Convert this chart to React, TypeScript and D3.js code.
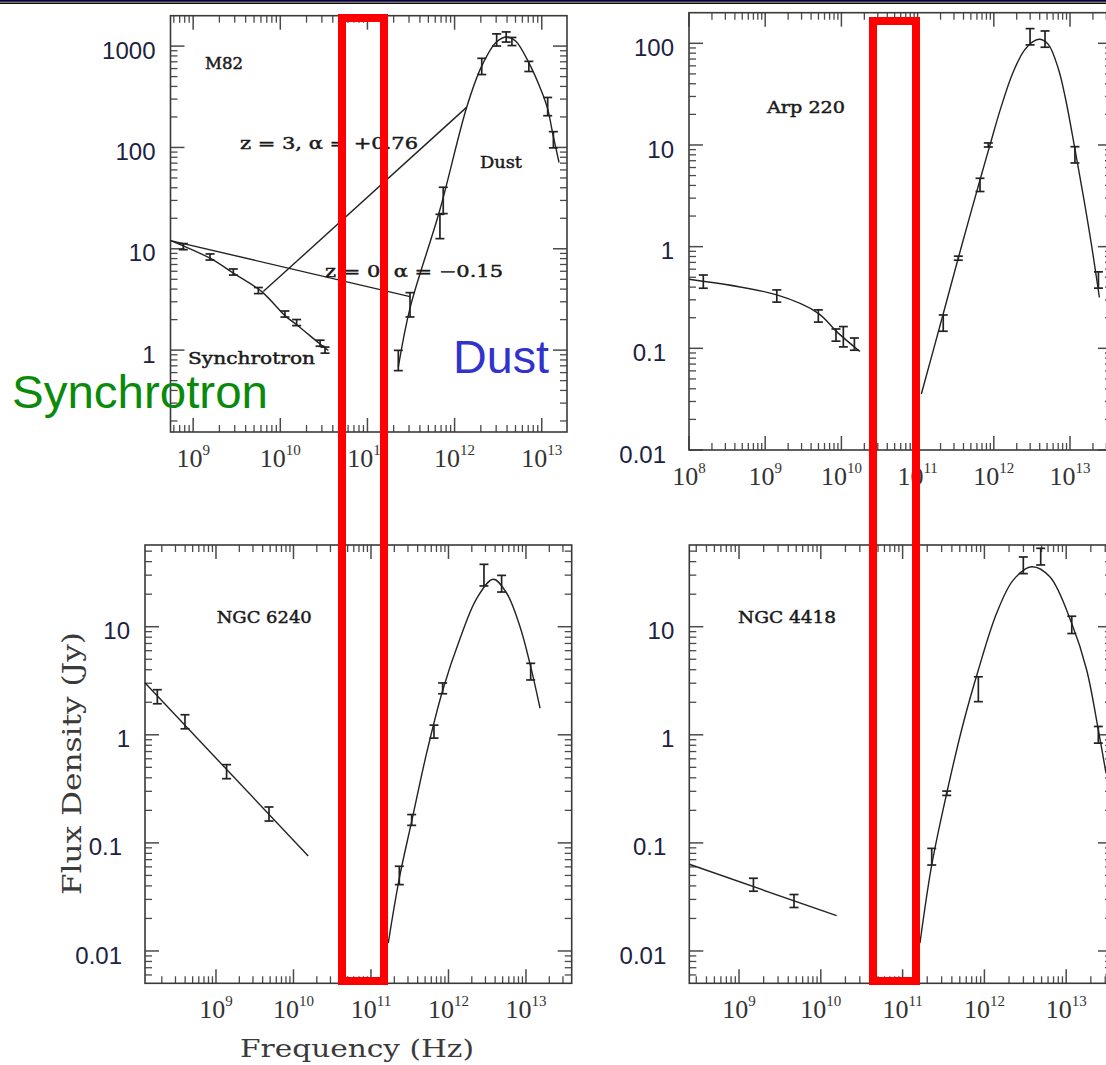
import * as d3 from 'd3';
import React from 'react';

// ---- M82 ----
const m82SynNu = [7.71e8, 1.56e9, 2.89e9, 5.6e9, 1.13e10, 1.54e10, 2.86e10, 3.26e10];
const m82SynFlux = [10.5, 8.3, 5.9, 3.87, 2.27, 1.87, 1.17, 1.0];
const m82SynErr = [0.03, 0.03, 0.03, 0.03, 0.03, 0.03, 0.03, 0.03];
const m82SynFitNu = [5.52e8, 1.56e9, 2.89e9, 6.12e9, 1.13e10, 1.54e10, 2.86e10, 3.56e10];
const m82SynFitFlux = [12.05, 8.07, 5.75, 3.78, 2.19, 1.78, 1.15, 0.99];
const m82DustNu = [2.26e11, 3.08e11, 6.79e11, 7.41e11, 2.05e12, 3.04e12, 3.91e12, 4.55e12, 7.11e12, 1.17e13, 1.36e13];
const m82DustFlux = [0.79, 2.8, 16.6, 30, 630, 1150, 1230, 1110, 630, 253, 119];
const m82DustErr = [0.1, 0.12, 0.12, 0.13, 0.08, 0.06, 0.05, 0.04, 0.05, 0.09, 0.08];
const m82DustFitNu = [2.26e11, 3.09e11, 6.76e11, 1.38e12, 2.04e12, 3.02e12, 3.98e12, 5.01e12, 7.08e12, 1.0e13, 1.17e13, 1.35e13, 1.58e13];
const m82DustFitFlux = [0.68, 2.63, 24, 251, 631, 1096, 1230, 1122, 692, 355, 240, 132, 71];
const m82Z0Nu = [5.52e8, 3.08e11];
const m82Z0Flux = [12.05, 3.37];
const m82Z3Nu = [6.38e9, 1.38e12];
const m82Z3Flux = [3.78, 250];

// ---- Arp 220 ----
const arpSynNu = [1.54e8, 1.42e9, 4.98e9, 8.49e9, 1.06e10, 1.48e10];
const arpSynFlux = [0.453, 0.327, 0.208, 0.135, 0.13, 0.11];
const arpSynErr = [0.065, 0.06, 0.06, 0.06, 0.1, 0.06];
const arpSynFitNu = [1.0e8, 1.42e9, 4.98e9, 8.65e9, 1.75e10];
const arpSynFitFlux = [0.478, 0.335, 0.221, 0.146, 0.093];
const arpDustNu = [2.17e11, 3.42e11, 6.59e11, 8.47e11, 2.99e12, 4.7e12, 1.16e13, 2.36e13];
const arpDustFlux = [0.177, 0.77, 4.05, 10, 116, 110, 8.0, 0.47];
const arpDustErr = [0.08, 0.02, 0.065, 0.02, 0.08, 0.08, 0.08, 0.08];
const arpDustFitNu = [1.12e11, 2.17e11, 3.6e11, 6.61e11, 8.91e11, 1.23e12, 1.78e12, 2.51e12, 3.31e12, 4.04e12, 5.19e12, 7.03e12, 8.71e12, 1.16e13, 1.55e13, 1.93e13, 2.43e13];
const arpDustFitFlux = [0.0355, 0.219, 0.891, 4.57, 10.0, 22.9, 51.3, 85.1, 104.7, 109.6, 97.7, 56.2, 28.8, 9.12, 2.69, 1.0, 0.316];

// ---- NGC 6240 ----
const n6240SynNu = [1.75e8, 3.98e8, 1.37e9, 4.83e9];
const n6240SynFlux = [2.25, 1.32, 0.456, 0.185];
const n6240SynErr = [0.065, 0.065, 0.065, 0.065];
const n6240SynFitNu = [1.21e8, 1.55e10];
const n6240SynFitFlux = [3.03, 0.0757];
const n6240DustNu = [2.32e11, 3.35e11, 6.5e11, 8.41e11, 2.87e12, 4.85e12, 1.15e13];
const n6240DustFlux = [0.05, 0.163, 1.07, 2.69, 30, 25, 3.84];
const n6240DustErr = [0.085, 0.05, 0.06, 0.05, 0.1, 0.077, 0.077];
const n6240DustFitNu = [1.67e11, 2.32e11, 3.35e11, 5.22e11, 8.41e11, 1.41e12, 2.31e12, 3.78e12, 5.64e12, 8.38e12, 1.15e13, 1.52e13];
const n6240DustFitFlux = [0.0118, 0.047, 0.158, 0.676, 2.57, 7.76, 18.2, 27.5, 20.4, 10.0, 4.27, 1.76];

// ---- NGC 4418 ----
const n4418SynNu = [1.5e9, 4.7e9];
const n4418SynFlux = [0.041, 0.029];
const n4418SynErr = [0.06, 0.06];
const n4418SynFitNu = [2.47e8, 1.56e10];
const n4418SynFitFlux = [0.0634, 0.0212];
const n4418DustNu = [2.27e11, 3.46e11, 8.43e11, 2.99e12, 4.88e12, 1.17e13, 2.47e13];
const n4418DustFlux = [0.0745, 0.288, 2.64, 37, 44.5, 10.4, 1.0];
const n4418DustErr = [0.077, 0.02, 0.115, 0.077, 0.077, 0.08, 0.077];
const n4418DustFitNu = [1.63e11, 2.27e11, 3.46e11, 5.52e11, 8.43e11, 1.41e12, 2.25e12, 3.78e12, 6.31e12, 1.17e13, 1.78e13, 2.47e13, 3.07e13];
const n4418DustFitFlux = [0.0118, 0.0625, 0.288, 1.28, 3.98, 13.3, 27.0, 35.9, 29.0, 10.7, 3.98, 1.11, 0.44];

const zip = (a: number[], b: number[]) => a.map((v, i) => [v, b[i]] as [number, number]);

type Txt = { text: string; x: number; y: number; w: number };
type Panel = {
  frame: [number, number, number, number]; // left, right, top, bottom
  xExp: [number, number];
  yExp: [number, number];
  points: { nu: number[]; flux: number[]; err: number[] }[];
  curves: [number, number][][];
  texts: Txt[];
};

const panels: Panel[] = [
  {
    frame: [170.5, 567, 15.7, 432],
    xExp: [8.74, 13.29],
    yExp: [-0.808, 3.3],
    points: [
      { nu: m82SynNu, flux: m82SynFlux, err: m82SynErr },
      { nu: m82DustNu, flux: m82DustFlux, err: m82DustErr },
    ],
    curves: [zip(m82SynFitNu, m82SynFitFlux), zip(m82DustFitNu, m82DustFitFlux), zip(m82Z0Nu, m82Z0Flux), zip(m82Z3Nu, m82Z3Flux)],
    texts: [
      { text: 'M82', x: 205, y: 68.5, w: 38 },
      { text: 'z = 3, α = +0.76', x: 240, y: 148.5, w: 178 },
      { text: 'Dust', x: 480, y: 167.5, w: 42 },
      { text: 'z = 0, α = −0.15', x: 325, y: 276.5, w: 178 },
      { text: 'Synchrotron', x: 188, y: 363.5, w: 127 },
    ],
  },
  {
    frame: [689, 1112, 12.7, 450],
    xExp: [8, 13.551],
    yExp: [-2, 2.301],
    points: [
      { nu: arpSynNu, flux: arpSynFlux, err: arpSynErr },
      { nu: arpDustNu, flux: arpDustFlux, err: arpDustErr },
    ],
    curves: [zip(arpSynFitNu, arpSynFitFlux), zip(arpDustFitNu, arpDustFitFlux)],
    texts: [{ text: 'Arp 220', x: 767, y: 113, w: 78 }],
  },
  {
    frame: [145, 571.7, 545, 983.3],
    xExp: [8.084, 13.59],
    yExp: [-2.299, 1.756],
    points: [
      { nu: n6240SynNu, flux: n6240SynFlux, err: n6240SynErr },
      { nu: n6240DustNu, flux: n6240DustFlux, err: n6240DustErr },
    ],
    curves: [zip(n6240SynFitNu, n6240SynFitFlux), zip(n6240DustFitNu, n6240DustFitFlux)],
    texts: [{ text: 'NGC 6240', x: 216.7, y: 623, w: 95 }],
  },
  {
    frame: [689.3, 1112, 545, 983.3],
    xExp: [8.392, 13.56],
    yExp: [-2.299, 1.756],
    points: [
      { nu: n4418SynNu, flux: n4418SynFlux, err: n4418SynErr },
      { nu: n4418DustNu, flux: n4418DustFlux, err: n4418DustErr },
    ],
    curves: [zip(n4418SynFitNu, n4418SynFitFlux), zip(n4418DustFitNu, n4418DustFitFlux)],
    texts: [{ text: 'NGC 4418', x: 738, y: 623, w: 98 }],
  },
];

function logTicks(lo: number, hi: number) {
  const major: number[] = [];
  const minor: number[] = [];
  for (let d = Math.floor(lo); d <= Math.ceil(hi); d++) {
    if (d >= lo - 1e-6 && d <= hi + 1e-6) major.push(d);
    for (let k = 2; k <= 9; k++) {
      const e = d + Math.log10(k);
      if (e > lo && e < hi) minor.push(e);
    }
  }
  return { major, minor };
}

const yLabel = (e: number) => (e >= 0 ? String(Math.round(10 ** e)) : (10 ** e).toFixed(-e));

function PanelView({ p }: { p: Panel }) {
  const [x0, x1, y0, y1] = p.frame;
  const xs = d3.scaleLog().domain([10 ** p.xExp[0], 10 ** p.xExp[1]]).range([x0, x1]);
  const ys = d3.scaleLog().domain([10 ** p.yExp[0], 10 ** p.yExp[1]]).range([y1, y0]);
  const xt = logTicks(p.xExp[0], p.xExp[1]);
  const yt = logTicks(p.yExp[0], p.yExp[1]);
  const line = d3
    .line<[number, number]>()
    .x((d) => xs(d[0]))
    .y((d) => ys(d[1]))
    .curve(d3.curveCatmullRom.alpha(0.5));
  const MJ = 14;
  const MN = 7;
  const tick = '#4a4a4a';
  return (
    <g>
      {/* x ticks top & bottom */}
      {xt.major.map((e) => {
        const x = xs(10 ** e);
        return (
          <g key={'xm' + e} stroke={tick} strokeWidth={1.5}>
            <line x1={x} x2={x} y1={y1} y2={y1 - MJ} />
            <line x1={x} x2={x} y1={y0} y2={y0 + MJ} />
          </g>
        );
      })}
      {xt.minor.map((e) => {
        const x = xs(10 ** e);
        return (
          <g key={'xn' + e} stroke={tick} strokeWidth={1.3}>
            <line x1={x} x2={x} y1={y1} y2={y1 - MN} />
            <line x1={x} x2={x} y1={y0} y2={y0 + MN} />
          </g>
        );
      })}
      {yt.major.map((e) => {
        const y = ys(10 ** e);
        return (
          <g key={'ym' + e} stroke={tick} strokeWidth={1.5}>
            <line x1={x0} x2={x0 + MJ} y1={y} y2={y} />
            <line x1={x1} x2={x1 - MJ} y1={y} y2={y} />
          </g>
        );
      })}
      {yt.minor.map((e) => {
        const y = ys(10 ** e);
        return (
          <g key={'yn' + e} stroke={tick} strokeWidth={1.3}>
            <line x1={x0} x2={x0 + MN} y1={y} y2={y} />
            <line x1={x1} x2={x1 - MN} y1={y} y2={y} />
          </g>
        );
      })}
      <rect x={x0} y={y0} width={x1 - x0} height={y1 - y0} fill="none" stroke="#3a3a3a" strokeWidth={1.6} />
      {/* tick labels */}
      {xt.major.map((e) => (
        <text
          key={'xl' + e}
          x={xs(10 ** e)}
          y={y1 + 35}
          textAnchor="middle"
          fontFamily="Liberation Serif"
          fontSize={26}
          fill="#333"
        >
          10
          <tspan fontSize={15} dy={-12}>
            {e}
          </tspan>
        </text>
      ))}
      {yt.major.map((e) => (
        <text
          key={'yl' + e}
          x={x0 - (e >= 0 ? 15 : 23)}
          y={ys(10 ** e) + 12.6}
          textAnchor="end"
          fontFamily="Liberation Sans"
          fontSize={24}
          fill="#1c2240"
        >
          {yLabel(e)}
        </text>
      ))}
      {/* fits */}
      {p.curves.map((c, i) => (
        <path key={'c' + i} d={line(c) || ''} fill="none" stroke="#222" strokeWidth={1.4} />
      ))}
      {/* error bars */}
      {p.points.map((g, gi) =>
        g.nu.map((nu, i) => {
          const x = xs(nu);
          const yl = ys(g.flux[i] * 10 ** -g.err[i]);
          const yh = ys(g.flux[i] * 10 ** g.err[i]);
          return (
            <g key={gi + '-' + i} stroke="#222" strokeWidth={1.7}>
              <line x1={x} x2={x} y1={yl} y2={yh} />
              <line x1={x - 4.5} x2={x + 4.5} y1={yl} y2={yl} />
              <line x1={x - 4.5} x2={x + 4.5} y1={yh} y2={yh} />
            </g>
          );
        })
      )}
      {p.texts.map((t) => (
        <text
          key={t.text}
          x={t.x}
          y={t.y}
          fontFamily="DejaVu Serif"
          fontSize={16}
          fill="#1a1a1a"
          stroke="#1a1a1a"
          strokeWidth={0.45}
          textLength={t.w}
          lengthAdjust="spacingAndGlyphs"
        >
          {t.text}
        </text>
      ))}
    </g>
  );
}

export default function App() {
  return (
    <div style={{ position: 'absolute', left: 0, top: 0 }}>
      <svg width={1106} height={1065} style={{ display: 'block', background: '#fff' }}>
        <rect x={0} y={0} width={1106} height={4} fill="#00005a" />
        <rect x={0} y={1.7} width={1106} height={1} fill="#c8b400" />
        {panels.map((p, i) => (
          <PanelView key={i} p={p} />
        ))}
        <text
          x={240}
          y={1057}
          fontFamily="DejaVu Serif"
          fontSize={24}
          fill="#3a3a3a"
          textLength={234}
          lengthAdjust="spacingAndGlyphs"
        >
          Frequency (Hz)
        </text>
        <text
          transform="translate(81,763.5) rotate(-90)"
          textAnchor="middle"
          fontFamily="DejaVu Serif"
          fontSize={26}
          fill="#3a3a3a"
          textLength={263}
          lengthAdjust="spacingAndGlyphs"
        >
          Flux Density (Jy)
        </text>
        <text x={12} y={408} fontFamily="Liberation Sans" fontSize={46} fill="#0a8a0a" textLength={256} lengthAdjust="spacingAndGlyphs">
          Synchrotron
        </text>
        <text x={453} y={373} fontFamily="Liberation Sans" fontSize={46} fill="#3232cd" textLength={96} lengthAdjust="spacingAndGlyphs">
          Dust
        </text>
        <rect x={342} y={18} width={42} height={963} fill="none" stroke="#ff0000" strokeWidth={8} />
        <rect x={873} y={21} width={43} height={960} fill="none" stroke="#ff0000" strokeWidth={8} />
      </svg>
    </div>
  );
}
